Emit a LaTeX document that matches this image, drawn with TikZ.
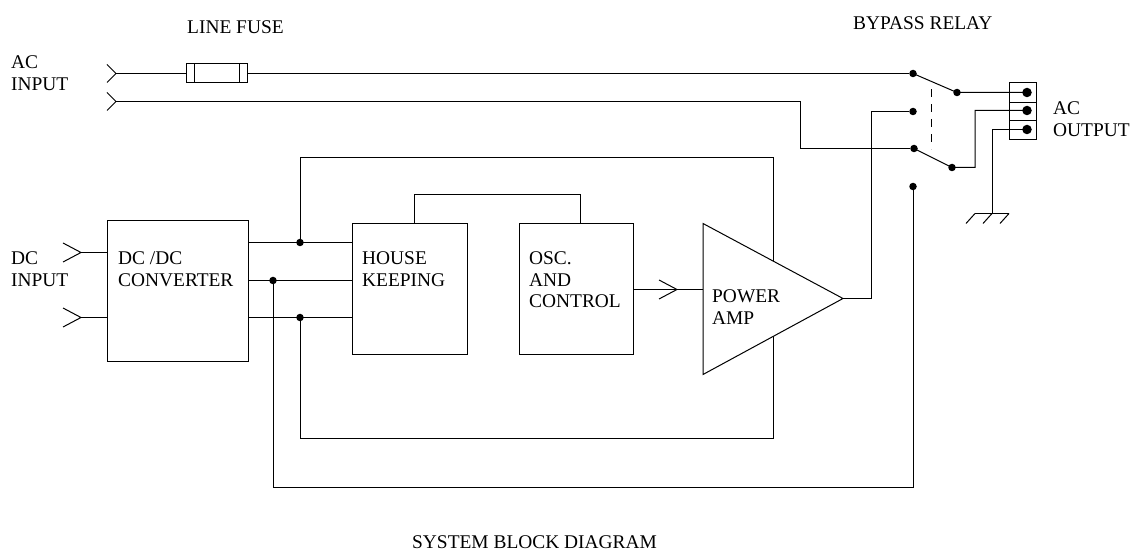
\documentclass[tikz,border=0pt]{standalone}
\usepackage{fontspec}
\setmainfont{Liberation Serif}
\usetikzlibrary{positioning,calc}

\tikzset{
	block/.style={draw, line width=1pt, inner sep=0pt, anchor=north west},
	wire/.style={line width=1pt},
	txt/.style={inner sep=0pt, align=left, font=\fontsize{19.4}{21.5}\selectfont},
	dot/.style={circle, fill=black, inner sep=0pt, minimum size=7.5pt},
	bigdot/.style={circle, fill=black, inner sep=0pt, minimum size=9.5pt}
}

\begin{document}
\begin{tikzpicture}[x=1pt, y=-1pt]
	\useasboundingbox (0,-0.5) rectangle (1133,552.5);

	% inputs and junctions
	\coordinate (acin1) at (116,73);
	\coordinate (acin2) at (116,101);
	\coordinate (dcin1) at (81,252);
	\coordinate (dcin2) at (81,317);
	\coordinate (oscin) at (677,289);
	\node[dot] (j1) at (300,242) {};
	\node[dot] (j2) at (273,280) {};
	\node[dot] (j3) at (300,317) {};

	% relay contacts
	\node[dot] (r1) at (913,73) {};
	\node[dot] (r2) at (913,111) {};
	\node[dot] (r3) at (914,148) {};
	\node[dot] (r4) at (913,186) {};
	\node[dot] (m1) at (957,92) {};
	\node[dot] (m2) at (952,167) {};

	% blocks
	\node[block, minimum width=141pt, minimum height=141pt] (dcdc) at (107,220) {};
	\node[block, minimum width=115pt, minimum height=131pt] (house) at (352,223) {};
	\node[block, minimum width=114pt, minimum height=131pt] (osc) at (519,223) {};
	\node[block, minimum width=61pt, minimum height=19pt] (fuse) at (186,63) {};

	% output terminal
	\node[block, minimum width=27pt, minimum height=20pt] (t1) at (1009,82) {};
	\node[block, minimum width=27pt, minimum height=18pt] (t2) at (1009,102) {};
	\node[block, minimum width=27pt, minimum height=19pt] (t3) at (1009,120) {};
	\node[bigdot] (o1) at (1027,92) {};
	\node[bigdot] (o2) at (1027,110) {};
	\node[bigdot] (o3) at (1027,129) {};

	% mains side
	\draw[wire] (acin1) -- (fuse.west |- acin1);
	\draw[wire] (fuse.east |- acin1) -- (r1);
	\draw[wire] (194,63) -- (194,82);
	\draw[wire] (239,63) -- (239,82);
	\draw[wire] (acin2) -- (800,101) -- (800,148) -- (r3);
	\foreach \p in {acin1,acin2}
		\draw[wire] ($(\p)+(-9,-9)$) -- (\p) -- ($(\p)+(-9,9)$);
	\foreach \p in {dcin1,dcin2,oscin}
		\draw[wire] ($(\p)+(-18,-9.5)$) -- (\p) -- ($(\p)+(-18,9.5)$);

	% relay
	\draw[wire] (r1.center) -- (m1.center) -- (o1.center);
	\draw[wire] (r3.center) -- (m2.center) -- (975,167) -- (975,110) -- (o2.center);
	\draw[wire, dash pattern=on 8pt off 7pt] (931,89) -- (931,149);
	\draw[wire] (o3.center) -- (992,129) -- (992,213) coordinate (gnd);
	\draw[wire] (975,213) -- (1009,213);
	\foreach \i in {975,992,1009}
		\draw[wire] (\i,213) -- ++(-9,10);

	% feedback loops, these run behind the amp
	\draw[wire] (j1.center) -- (300,157) -- (773,157) -- (773,438) -- (300,438) -- (j3.center);
	\draw[wire] (j2.center) -- (273,487) -- (913,487) -- (r4.center);

	\draw[wire] (dcdc.east |- j1) -- (house.west |- j1);
	\draw[wire] (dcdc.east |- j2) -- (house.west |- j2);
	\draw[wire] (dcdc.east |- j3) -- (house.west |- j3);
	\draw[wire] (dcin1) -- (dcdc.west |- dcin1);
	\draw[wire] (dcin2) -- (dcdc.west |- dcin2);
	\draw[wire] (414,223) -- (414,194) -- (580,194) -- (580,223);

	% amp
	\coordinate (ampa) at (703,223);
	\coordinate (ampb) at (703,374);
	\coordinate (ampc) at (843,298);
	\draw[wire, fill=white] (ampa) -- (ampc) -- (ampb) -- cycle;
	\draw[wire] (osc.east |- oscin) -- (703,289);
	\draw[wire] (ampc) -- (871,298) -- (871,111) -- (r2);

	% text
	\node[txt, anchor=north west] (lblfuse) at (187,20) {LINE FUSE};
	\node[txt, anchor=north west] (lblrelay) at (853,16) {BYPASS RELAY};
	\node[txt, anchor=north west] (lblac) at (11,55) {AC\\INPUT};
	\node[txt, anchor=north west] (lbldc) at (11,251) {DC\\INPUT};
	\node[txt, below right=31pt and 11pt of dcdc.north west] (lbldcdc) {DC /DC\\CONVERTER};
	\node[txt, below right=28pt and 10pt of house.north west] (lblhouse) {HOUSE\\KEEPING};
	\node[txt, below right=28pt and 10pt of osc.north west] (lblosc) {OSC.\\AND\\CONTROL};
	\node[txt, anchor=north west] (lblamp) at (712,289) {POWER\\AMP};
	\node[txt, anchor=north west] (lblout) at (1053,101) {AC\\OUTPUT};
	\node[txt, anchor=north west] (lblsys) at (412,535) {SYSTEM BLOCK DIAGRAM};
\end{tikzpicture}
\end{document}
